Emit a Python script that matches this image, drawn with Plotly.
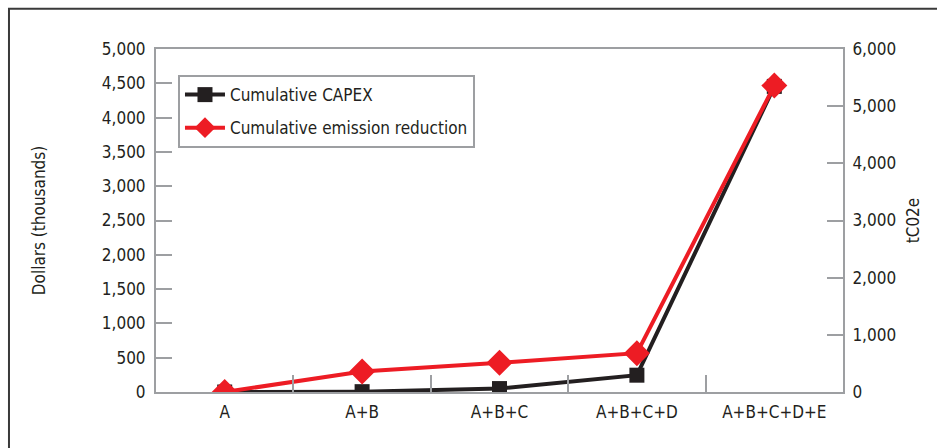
import plotly.graph_objects as go

categories = ["A", "A+B", "A+B+C", "A+B+C+D", "A+B+C+D+E"]
capex = [0, 5, 50, 245, 4455]          # Dollars (thousands), left axis
emission = [0, 360, 510, 680, 5360]    # tCO2e, right axis

FONT = "Liberation Sans Narrow, DejaVu Sans Condensed, Arial Narrow, sans-serif"
TXT = "#231f20"
GRID = "#9d9fa2"
FS = 17

fig = go.Figure()
fig.add_trace(go.Scatter(
    x=categories, y=capex, name="Cumulative CAPEX", mode="lines+markers",
    line=dict(color="#231f20", width=4),
    marker=dict(symbol="square", size=15, color="#231f20"),
    yaxis="y", legendgroup="g1",
))
fig.add_trace(go.Scatter(
    x=categories, y=emission, name="Cumulative emission reduction", mode="lines+markers",
    line=dict(color="#ed1c24", width=4),
    marker=dict(symbol="diamond", size=20, color="#ed1c24"),
    yaxis="y2", legendgroup="g2",
))

fig.update_layout(
    width=937, height=448,
    margin=dict(l=156, r=94, t=49, b=56),
    paper_bgcolor="white", plot_bgcolor="white",
    font=dict(family=FONT, size=FS, color=TXT),
    showlegend=True,
    legend=dict(
        x=0.032, y=0.924, xanchor="left", yanchor="top",
        bordercolor=GRID, borderwidth=2, bgcolor="white",
        font=dict(family=FONT, size=FS, color=TXT),
        tracegroupgap=8, itemwidth=40,
    ),
    xaxis=dict(
        type="category", range=[-0.5, 4.5],
        showline=True, linecolor=GRID, linewidth=2, mirror=True,
        ticks="inside", tickson="boundaries", ticklen=17, tickcolor=GRID, tickwidth=2,
        ticklabelstandoff=4,
        showgrid=False, zeroline=False,
        tickfont=dict(family=FONT, size=FS, color=TXT),
    ),
    yaxis=dict(
        range=[0, 5000], dtick=500, tickformat=",d",
        showline=True, linecolor=GRID, linewidth=2,
        ticks="inside", ticklen=16, tickcolor=GRID, tickwidth=2,
        ticklabelstandoff=5,
        showgrid=False, zeroline=False,
        title=dict(text="Dollars (thousands)", standoff=52, font=dict(family=FONT, size=FS, color=TXT)),
        tickfont=dict(family=FONT, size=FS, color=TXT),
    ),
    yaxis2=dict(
        overlaying="y", side="right",
        range=[0, 6000], dtick=1000, tickformat=",d",
        showline=True, linecolor=GRID, linewidth=2,
        ticks="inside", ticklen=16, tickcolor=GRID, tickwidth=2,
        ticklabelstandoff=4,
        showgrid=False, zeroline=False,
        title=dict(text="tC02e", standoff=12, font=dict(family=FONT, size=FS, color=TXT)),
        tickfont=dict(family=FONT, size=FS, color=TXT),
    ),
    shapes=[dict(
        type="rect", xref="paper", yref="paper",
        x0=-0.214, x1=1.2, y0=-0.3, y1=1.117,
        line=dict(color="#3a3a3a", width=2), fillcolor="rgba(0,0,0,0)", layer="below",
    )],
)

fig.write_html("out.html")
